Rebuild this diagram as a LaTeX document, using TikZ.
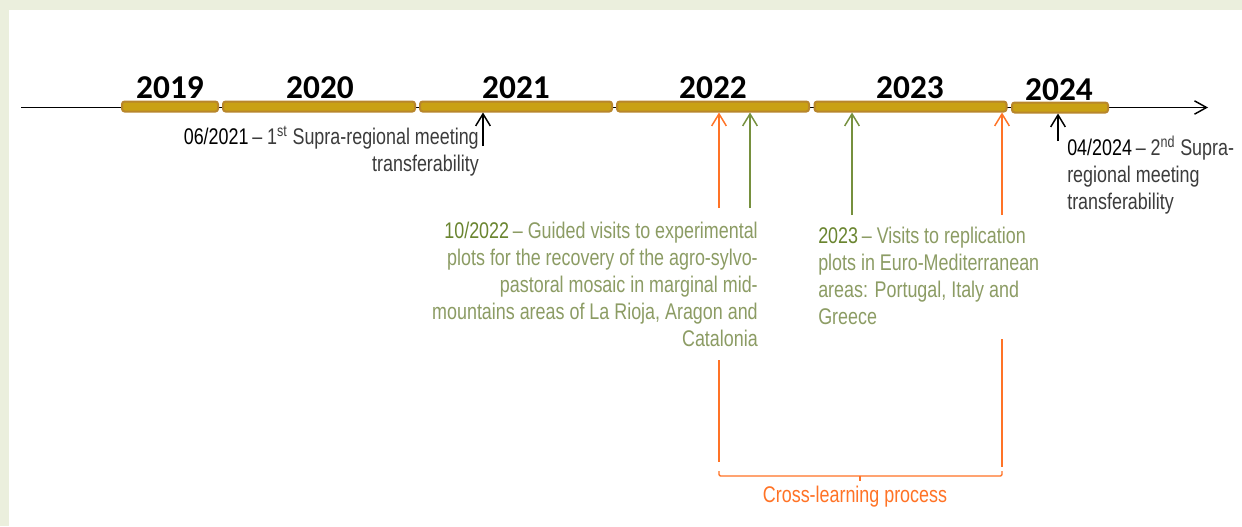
\documentclass[tikz,border=0pt]{standalone}
\usepackage{fontspec}
\setmainfont[FakeStretch=0.79]{Liberation Sans}
\newfontfamily\yearfont{Carlito}
\usetikzlibrary{arrows.meta,positioning}
\definecolor{frame}{HTML}{EBEFDD}
\definecolor{gold}{HTML}{C9A114}
\definecolor{goldline}{HTML}{B8862C}
\definecolor{olive}{HTML}{76903E}
\definecolor{olivetext}{HTML}{8C9C64}
\definecolor{olivedate}{HTML}{6A8530}
\definecolor{crossorange}{HTML}{FF7326}
\definecolor{greytext}{HTML}{3C3C3C}
\newcommand{\Dt}[2]{{\color{#1}#2}\,--\ }

\tikzset{
  yearbar/.style={draw=goldline, line width=1.5pt, fill=gold, rounded corners=2pt,
    minimum height=7.5pt, inner sep=0pt},
  yearlabel/.style={anchor=base, inner sep=0pt,
    font=\yearfont\bfseries\fontsize{25}{25}\selectfont},
  note/.style={inner sep=0pt, font=\fontsize{17}{20.25}\selectfont},
  pointer/.style={-{Straight Barb[length=9pt,width=11pt]}, line width=1.1pt},
}

\begin{document}
\begin{tikzpicture}[x=0.75pt, y=-0.75pt]

    \useasboundingbox (0,0) rectangle (1242,526);
    \fill[white] (0,0) rectangle (1242,526);
    \fill[frame] (0,0) rectangle (1242,10);
    \fill[frame] (0,0) rectangle (8.5,526);

    % time axis
    \coordinate (axisL) at (21,107.5);
    \coordinate (axisR) at (1208,107.5);
    \draw[line width=1.1pt, -{Straight Barb[length=9pt,width=10pt]}] (axisL) -- (axisR);

    \draw(170,106.5) node[yearbar, minimum width=72pt] (b2019) {};
    \draw(319,106.5) node[yearbar, minimum width=144pt] (b2020) {};
    \draw(516,106.5) node[yearbar, minimum width=144pt] (b2021) {};
    \draw(713,106.5) node[yearbar, minimum width=144pt] (b2022) {};
    \draw(910.5,106.5) node[yearbar, minimum width=144pt] (b2023) {};
    \draw(1060,107.5) node[yearbar, minimum width=72pt] (b2024) {};

    \draw(170,98.5) node[yearlabel] (y2019) {2019};
    \draw(320,98.5) node[yearlabel] (y2020) {2020};
    \draw(516,98.5) node[yearlabel] (y2021) {2021};
    \draw(713,98.5) node[yearlabel] (y2022) {2022};
    \draw(910,98.5) node[yearlabel] (y2023) {2023};
    \draw(1059,100) node[yearlabel] (y2024) {2024};

    % meetings
    \draw(479,125.5) node[note, anchor=north east, align=right, text=greytext] (meet1)
        {\Dt{black}{06/2021}1\textsuperscript{st} Supra-regional meeting\\transferability};
    \draw(1067,135.5) node[note, anchor=north west, align=left, text=greytext] (meet2)
        {\Dt{black}{04/2024}2\textsuperscript{nd} Supra-\\regional meeting\\transferability};

    \coordinate (m1) at (483,146);
    \coordinate (m2) at (1058,141);
    \draw[pointer] (m1) -- (m1 |- b2021.south);
    \draw[pointer] (m2) -- (m2 |- b2024.south);

    % visits
    \draw(758,221.5) node[note, anchor=north east, align=right, text=olivetext] (visit1)
        {\Dt{olivedate}{10/2022}Guided visits to experimental\\plots for the recovery of the agro-sylvo-\\pastoral mosaic in marginal mid-\\mountains areas of La Rioja, Aragon and\\Catalonia};
    \draw(818,226.5) node[note, anchor=north west, align=left, text=olivetext] (visit2)
        {\Dt{olivedate}{2023}Visits to replication\\plots in Euro-Mediterranean\\areas: Portugal, Italy and\\Greece};

    \coordinate (oA) at (719,208);
    \coordinate (gA) at (750,208);
    \coordinate (gB) at (852,215);
    \coordinate (oB) at (1002,215);
    \draw[pointer, crossorange] (oA) -- (oA |- b2022.south);
    \draw[pointer, olive] (gA) -- (gA |- b2022.south);
    \draw[pointer, olive] (gB) -- (gB |- b2023.south);
    \draw[pointer, crossorange] (oB) -- (oB |- b2023.south);

    % cross-learning bracket
    \coordinate (oA1) at (719,360);
    \coordinate (oA2) at (719,462);
    \coordinate (oB1) at (1002,339);
    \coordinate (oB2) at (1002,467);
    \draw[crossorange, line width=1.1pt] (oA1) -- (oA2);
    \draw[crossorange, line width=1.1pt] (oB1) -- (oB2);
    \coordinate (brL) at (719,471);
    \coordinate (brR) at (1002,471);
    \draw[crossorange, line width=1.1pt, rounded corners=1pt]
        (brL) -- ++(0,5) -| (brR);
    \draw[crossorange, line width=1.1pt] (860,476) -- ++(0,5);
    \draw(855,502) node[note, anchor=base, text=crossorange] (cross) {Cross-learning process};

\end{tikzpicture}
\end{document}
